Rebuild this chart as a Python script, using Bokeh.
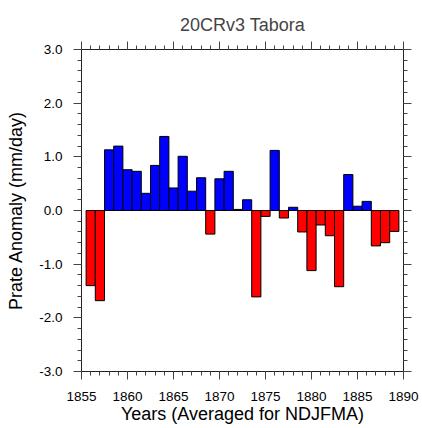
from bokeh.plotting import figure
from bokeh.models import (LinearAxis, SingleIntervalTicker, NumeralTickFormatter, Range1d,
                          ColumnDataSource, CustomJSTickFormatter)
from bokeh.embed import file_html
from bokeh.resources import INLINE

title = "20CRv3 Tabora"
years = list(range(1856, 1890))
anomaly = [-1.40, -1.68, 1.13, 1.20, 0.76, 0.73, 0.32, 0.84, 1.38, 0.42,
           1.01, 0.36, 0.61, -0.44, 0.59, 0.73, 0.02, 0.20, -1.61, -0.11,
           1.12, -0.14, 0.06, -0.40, -1.12, -0.27, -0.47, -1.42, 0.67, 0.08,
           0.17, -0.66, -0.60, -0.39]
colors = ["blue" if v >= 0 else "red" for v in anomaly]

src = ColumnDataSource(dict(x=years, top=anomaly, color=colors))

FONT = "Liberation Sans"
p = figure(width=422, height=428, output_backend="svg", toolbar_location=None,
           x_range=Range1d(1855, 1890), y_range=Range1d(-3, 3),
           min_border_left=81, min_border_right=19, min_border_top=49, min_border_bottom=57,
           x_axis_label="Years (Averaged for NDJFMA)", y_axis_label="Prate Anomaly (mm/day)")
p.vbar(x="x", top="top", bottom=0, width=1.0, fill_color="color", line_color="black",
       line_width=1, source=src)

p.grid.visible = False
p.outline_line_color = "#222222"
p.background_fill_color = "white"
p.border_fill_color = "white"

p.title.text = title
p.title.align = "center"
p.title.text_font = FONT
p.title.text_font_style = "normal"
p.title.text_font_size = "18px"
p.title.standoff = 14

xt = SingleIntervalTicker(interval=5, num_minor_ticks=5)
yt = SingleIntervalTicker(interval=1, num_minor_ticks=5)

def style(ax):
    ax.axis_line_color = "#222222"
    ax.major_tick_line_color = "#444444"
    ax.minor_tick_line_color = "#444444"
    ax.major_tick_out = 8
    ax.major_tick_in = 0
    ax.minor_tick_out = 4
    ax.minor_tick_in = 0
    ax.major_label_text_font = FONT
    ax.major_label_text_font_size = "13.5px"
    ax.major_label_text_color = "black"
    ax.axis_label_text_font = FONT
    ax.axis_label_text_font_style = "normal"
    ax.axis_label_text_color = "black"

p.xaxis.ticker = xt
p.yaxis.ticker = yt
p.yaxis.formatter = NumeralTickFormatter(format="0.0")
for ax in p.xaxis + p.yaxis:
    style(ax)
p.xaxis.axis_label_text_font_size = "18px"
p.yaxis.axis_label_text_font_size = "18px"
p.xaxis.major_label_standoff = 12
p.yaxis.major_label_standoff = 11
p.xaxis.axis_label_standoff = 0
p.yaxis.axis_label_standoff = 10

top_ax = LinearAxis(ticker=SingleIntervalTicker(interval=5, num_minor_ticks=5),
                    formatter=CustomJSTickFormatter(code="return ''"))
right_ax = LinearAxis(ticker=SingleIntervalTicker(interval=1, num_minor_ticks=5),
                      formatter=CustomJSTickFormatter(code="return ''"))
for ax in (top_ax, right_ax):
    style(ax)
    ax.major_label_standoff = 0
p.add_layout(top_ax, "above")
p.add_layout(right_ax, "right")

open("out.html", "w").write(file_html(p, INLINE))
